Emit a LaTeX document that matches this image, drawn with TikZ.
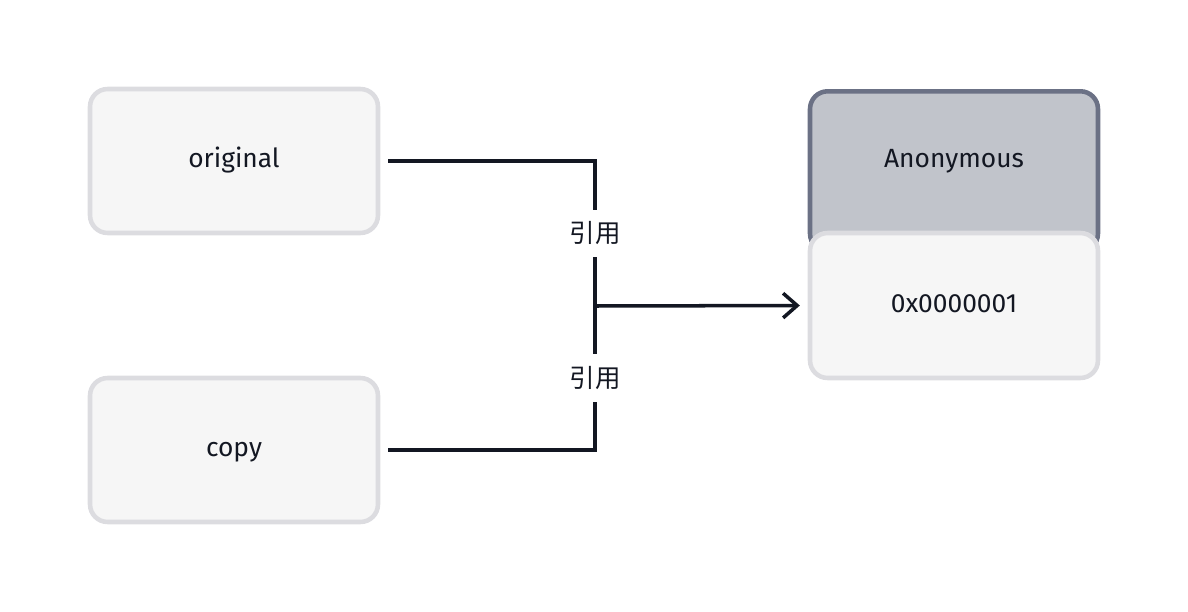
\documentclass[tikz,border=0pt]{standalone}
\usepackage{fontspec}
\setmainfont{Fira Sans}
\newfontfamily\cjk{Noto Sans CJK SC}
\usetikzlibrary{arrows.meta}
\definecolor{boxfill}{HTML}{F6F6F6}
\definecolor{boxline}{HTML}{DCDCE0}
\definecolor{headfill}{HTML}{C1C4CB}
\definecolor{headline}{HTML}{6B7185}
\definecolor{ink}{HTML}{131722}

\begin{document}
\begin{tikzpicture}[x=0.02cm,y=-0.02cm,
	txt/.style={font=\fontsize{15}{17}\selectfont,text=ink,text height=0.95em,text depth=0.17em},
	box/.style={txt,draw=boxline,fill=boxfill,line width=2.6pt,rounded corners=10pt,minimum width=5.76cm,minimum height=2.88cm},
	head/.style={box,draw=headline,fill=headfill},
	conn/.style={draw=ink,line width=2pt},
	lab/.style={fill=white,inner xsep=2pt,inner ysep=7pt,font=\cjk\fontsize{14.5}{17}\selectfont,text=ink}]
\useasboundingbox (0,0) rectangle (1188,612);

	% variables
	\node[box] (orig) at (234,161) {original};
	\node[box] (cpy) at (234,450) {copy};

	% object: header runs on under the value box
	\node[head,minimum height=3.2cm,anchor=north] (anon) at (954,89) {};
	\node[txt] (anontxt) at (954,161) {Anonymous};
	\node[box,minimum height=2.9cm] (addr) at (954,305.5) {0x0000001};

	\coordinate (j) at (595,306);
	\draw[conn,shorten <=4.5pt] (orig.east) -| node[lab,pos=0.75] {引用} (j);
	\draw[conn,shorten <=4.5pt] (cpy.east) -| node[lab,pos=0.75] {引用} (j);
	\draw[conn,shorten >=4.5pt,-{Straight Barb[length=8pt,width=14pt]}] (j) -- (addr.west);
\end{tikzpicture}
\end{document}
